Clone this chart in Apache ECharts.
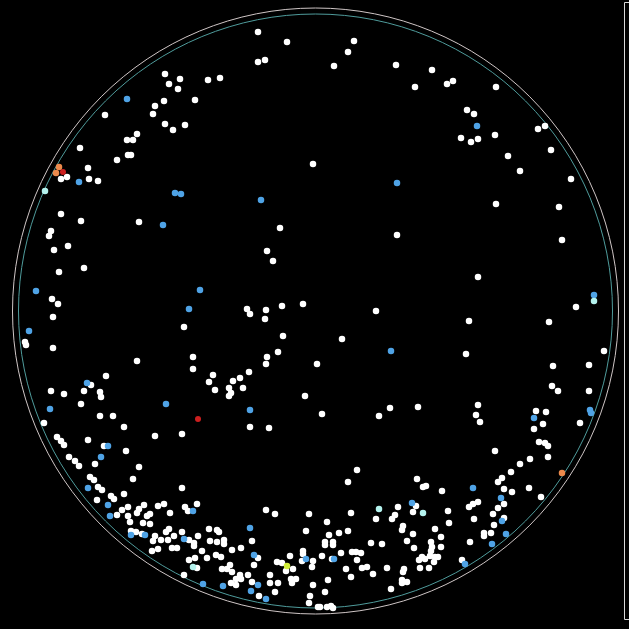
<!DOCTYPE html>
<html>
<head>
<meta charset="utf-8">
<script src="https://cdn.jsdelivr.net/npm/echarts@6/dist/echarts.min.js"></script>
<style>
html,body{margin:0;padding:0;background:#000;}
#chart{width:629px;height:629px;}
</style>
</head>
<body>
<div id="chart"></div>
<script>
// Point positions (x to the right, y downward)
const whitePoints = [
[258,32],[287,42],[258,62],[265,60],[165,74],[180,79],[169,84],[178,89],[208,80],[220,78],[164,101],[195,100],[155,106],[153,114],[105,115],[165,124],[173,130],[185,125],[137,134],[127,140],[133,140],[80,148],[128,155],[131,155],[117,160],[313,164],[88,168],[61,179],[67,177],[89,179],[98,181],[61,214],[81,221],[139,222],[280,228],[51,231],[49,236],[68,246],[54,250],[267,251],[273,261],[84,268],[59,272],[52,299],[58,304],[303,304],[282,306],[247,309],[250,314],[266,310],[265,319],[53,317],
[354,41],[348,52],[334,66],[396,65],[432,70],[415,87],[447,84],[453,81],[496,87],[467,110],[474,114],[461,138],[471,142],[478,139],[495,135],[538,129],[545,126],[551,150],[508,156],[520,171],[571,179],[496,204],[559,207],[397,235],[562,240],[478,277],[576,307],[376,311],
[184,327],[25,342],[26,345],[53,348],[283,336],[278,352],[267,357],[266,364],[193,357],[137,361],[193,369],[317,364],[213,375],[209,382],[215,390],[249,372],[240,378],[233,381],[243,388],[229,388],[231,393],[229,396],[106,376],[91,385],[51,391],[64,394],[84,391],[100,392],[101,397],[81,404],[305,396],[100,416],[113,416],[44,423],[124,427],[250,427],[269,428],[155,436],[182,434],[57,437],[61,441],[64,445],[88,440],[104,446],[126,451],[69,457],[75,461],[79,466],[95,464],[139,467],[90,477],[94,480],[133,479],[98,487],[102,490],[182,488],[111,496],[114,499],[124,494],[97,500],[122,510],[128,507],[139,509],[144,505],[137,513],[158,506],[164,504],[170,513],[185,507],[188,511],[197,504],[117,515],[128,516],[147,516],[150,514],[130,522],[143,523],[150,524],[266,510],[275,514],[309,514],[322,414],
[131,531],[136,532],[142,534],[155,536],[166,532],[169,529],[182,532],[306,531],[209,529],[217,530],[219,532],[198,536],[153,541],[161,540],[168,540],[174,536],[189,540],[194,543],[194,546],[210,541],[217,542],[224,540],[224,544],[252,541],[152,551],[158,549],[172,548],[177,548],[202,551],[232,550],[241,548],[216,555],[221,557],[189,560],[195,558],[207,558],[258,558],[303,551],[303,554],[290,556],[277,562],[282,563],[302,561],[313,561],[312,567],[254,565],[230,565],[222,569],[227,569],[232,572],[197,568],[293,569],[286,571],[184,575],[240,575],[248,575],[236,579],[241,579],[270,575],[291,579],[296,579],[231,583],[236,585],[252,582],[270,583],[278,583],[292,583],[313,585],[275,592],[259,596],[310,596],[309,603],[318,607],
[469,321],[549,322],[342,339],[466,354],[604,351],[553,366],[589,365],[552,386],[558,391],[589,391],[478,405],[476,415],[480,422],[390,408],[418,407],[379,416],[536,411],[546,412],[543,424],[534,429],[580,423],[495,451],[539,442],[545,443],[548,446],[548,457],[530,459],[520,464],[357,470],[348,482],[511,472],[541,497],[529,488],[417,479],[426,486],[423,487],[442,491],[502,478],[498,482],[504,489],[512,492],[478,502],[473,504],[469,507],[504,504],[493,514],[498,508],[504,518],[474,519],[494,525],[491,533],[484,533],[484,536],[470,542],[462,560],[416,506],[398,507],[351,513],[395,515],[392,519],[376,519],[413,512],[448,511],[449,523],[435,529],[403,526],[402,530],[327,522],[348,531],[339,533],[329,535],[413,534],[441,537],[325,542],[333,542],[325,545],[333,545],[371,543],[382,544],[407,541],[431,542],[432,547],[441,547],[352,552],[356,552],[361,553],[341,553],[322,556],[414,548],[422,557],[419,560],[425,559],[430,556],[435,557],[431,551],[438,557],[434,562],[332,559],[357,560],[346,569],[362,568],[367,567],[387,568],[404,569],[403,572],[420,568],[429,568],[373,574],[351,577],[328,580],[402,580],[407,582],[402,583],[391,589],[325,592],[320,607],[327,607],[331,606],[333,608]
];
const bluePoints = [
[127,99],[79,182],[175,193],[181,194],[261,200],[163,225],[36,291],[200,290],[189,309],[477,126],[397,183],[594,295],[29,331],[87,383],[166,404],[50,409],[250,410],[108,446],[101,457],[88,488],[108,505],[193,511],[110,516],[131,535],[145,535],[184,539],[250,528],[254,555],[306,559],[203,584],[223,586],[258,585],[251,591],[266,599],[391,351],[534,418],[590,410],[591,413],[473,488],[501,498],[412,503],[502,521],[506,534],[492,544],[465,564],[334,559]
];
const cyanPoints = [[45,191],[594,301],[379,509],[423,513],[193,567]];
const orangePoints = [[59,167],[56,173],[562,473]];
const redPoints = [[63,172],[198,419]];
const limePoints = [[287,566]];

const chart = echarts.init(document.getElementById('chart'));
function sc(name, data, color, size) {
  return {
    name: name, type: 'scatter', data: data, symbolSize: size,
    itemStyle: { color: color, opacity: 1 },
    silent: true, animation: false
  };
}
chart.setOption({
  backgroundColor: '#000000',
  animation: false,
  grid: { left: 0, top: 0, width: 629, height: 629 },
  xAxis: { type: 'value', min: 0, max: 629, show: false },
  yAxis: { type: 'value', min: 0, max: 629, inverse: true, show: false },
  polar: [
    { center: [315.5, 311], radius: 303 },
    { center: [315.5, 311], radius: 297 }
  ],
  angleAxis: [
    { polarIndex: 0, type: 'value', min: 0, max: 360, axisLine: { lineStyle: { color: '#cfc6c6', width: 1 } }, axisTick: { show: false }, axisLabel: { show: false }, splitLine: { show: false } },
    { polarIndex: 1, type: 'value', min: 0, max: 360, axisLine: { lineStyle: { color: '#4f9c9c', width: 1 } }, axisTick: { show: false }, axisLabel: { show: false }, splitLine: { show: false } }
  ],
  radiusAxis: [
    { polarIndex: 0, type: 'value', show: false },
    { polarIndex: 1, type: 'value', show: false }
  ],
  graphic: [{
    type: 'rect', silent: true,
    shape: { x: 624.5, y: 2.5, width: 30, height: 617 },
    style: { fill: 'none', stroke: '#d8d8d8', lineWidth: 1 }
  }],
  series: [
    sc('white', whitePoints, '#ffffff', 6.5),
    sc('red', redPoints, '#cc1f1f', 6),
    sc('blue', bluePoints, '#4fa3e6', 6.5),
    sc('cyan', cyanPoints, '#b4f3ee', 6.5),
    sc('orange', orangePoints, '#ec8a4c', 6.5),
    sc('lime', limePoints, '#d2ee3a', 6.5)
  ]
});
</script>
</body>
</html>
